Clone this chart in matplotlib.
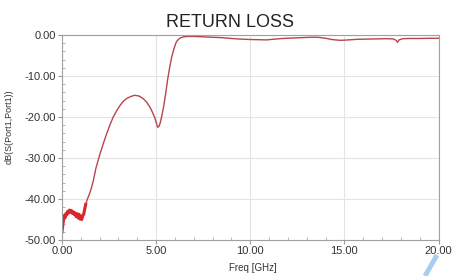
import matplotlib
matplotlib.use("Agg")
import matplotlib.pyplot as plt
from matplotlib.lines import Line2D
import numpy as np

plt.rcParams['font.family'] = ['Liberation Sans', 'DejaVu Sans']

# Data (Freq in GHz, dB(S11))
freq_low = [0.00, 0.04, 0.08, 0.12, 0.16, 0.20, 0.25, 0.30, 0.35, 0.40, 0.45, 0.50,
            0.55, 0.60, 0.65, 0.70, 0.75, 0.80, 0.85, 0.90, 0.95, 1.00, 1.05, 1.10,
            1.15, 1.20, 1.26]
db_low = [-48.0, -46.5, -45.2, -44.0, -44.6, -43.6, -43.9, -43.0, -43.4, -42.7, -43.2, -42.8,
          -43.5, -43.1, -43.8, -43.4, -44.3, -43.6, -44.6, -43.7, -44.9, -44.2, -45.0, -44.0,
          -43.8, -42.6, -41.3]
freq_main = [1.35, 1.44, 1.55, 1.66, 1.80, 2.02, 2.20, 2.37, 2.55, 2.72, 2.90, 3.08,
             3.25, 3.43, 3.65, 3.87, 4.10, 4.31, 4.50, 4.67, 4.80, 4.93, 5.02, 5.08,
             5.15, 5.22, 5.30, 5.40, 5.50, 5.60, 5.70, 5.82, 5.95, 6.08, 6.25, 6.45,
             6.70, 7.00, 7.50, 8.00, 8.50, 9.00, 9.50, 10.00, 10.50, 10.85, 11.20,
             11.70, 12.20, 12.70, 13.20, 13.60, 14.00, 14.40, 14.80, 15.20, 15.70,
             16.20, 16.70, 17.20, 17.60, 17.75, 17.82, 17.90, 18.10, 18.50, 19.00,
             19.50, 20.00]
db_main = [-40.0, -39.0, -37.5, -35.6, -32.5, -29.0, -26.4, -24.1, -21.9, -20.0, -18.5, -17.2,
           -16.2, -15.5, -15.0, -14.7, -14.9, -15.5, -16.4, -17.6, -18.8, -20.2, -21.6, -22.5,
           -22.3, -21.4, -19.8, -17.4, -14.5, -11.2, -8.4, -5.5, -3.3, -1.6, -0.8, -0.45,
           -0.35, -0.35, -0.45, -0.55, -0.65, -0.85, -1.0, -1.1, -1.15, -1.2, -1.05,
           -0.85, -0.75, -0.65, -0.55, -0.55, -0.8, -1.15, -1.3, -1.2, -1.05,
           -1.0, -0.95, -0.9, -0.95, -1.3, -1.8, -1.2, -0.9, -0.85, -0.85,
           -0.8, -0.8]

x_ticks = [0, 5, 10, 15, 20]
x_ticklabels = ["0.00", "5.00", "10.00", "15.00", "20.00"]
y_ticks = [0, -10, -20, -30, -40, -50]
y_ticklabels = ["0.00", "-10.00", "-20.00", "-30.00", "-40.00", "-50.00"]

W, H = 453, 276
fig = plt.figure(figsize=(W / 100, H / 100), dpi=100)
ax = fig.add_axes([62 / W, 1 - 240 / H, (438.5 - 62) / W, (240 - 35) / H])

grid_c = '#e4e4e4'
ax.grid(True, which='major', color=grid_c, linewidth=0.8)
ax.set_axisbelow(True)

# noisy low-frequency part (thicker, brighter red)
ax.plot(freq_low, db_low, color='#d9252c', linewidth=2.2, solid_joinstyle='round')
# main trace
ax.plot([freq_low[-1]] + freq_main, [db_low[-1]] + db_main,
        color='#b8444c', linewidth=1.0)

ax.set_xlim(0, 20)
ax.set_ylim(-50, 0)
ax.set_xticks(x_ticks)
ax.set_xticklabels(x_ticklabels)
ax.set_yticks(y_ticks)
ax.set_yticklabels(y_ticklabels)
ax.set_xticks(np.arange(0, 20.01, 1), minor=True)
ax.set_yticks(np.arange(-50, 0.01, 2), minor=True)

ax.tick_params(axis='both', which='major', labelsize=8, labelcolor='#333333',
               color='#999999', length=3, direction='out', pad=1.5)
ax.tick_params(axis='both', which='minor', color='#aaaaaa', length=2, direction='in')

for s in ax.spines.values():
    s.set_color('#a0a0a0')
    s.set_linewidth(0.8)

fig.text(230 / W, 1 - 27 / H, "RETURN LOSS", fontsize=13, color='#222222',
         ha='center', va='baseline')
fig.text(253 / W, 1 - 268 / H, "Freq [GHz]", fontsize=7, color='#333333',
         ha='center', va='center')
fig.text(9 / W, 1 - 127 / H, "dB(S(Port1,Port1))", fontsize=6.5, color='#333333',
         rotation=90, ha='center', va='center')

# light blue stroke at the bottom-right corner of the reference picture
fig.add_artist(Line2D([425 / W, 437 / W], [0.0, 1 - 255 / H], transform=fig.transFigure,
                      color='#a9cdf0', linewidth=3.5, solid_capstyle='butt'))

fig.savefig("out.png", dpi=100)
